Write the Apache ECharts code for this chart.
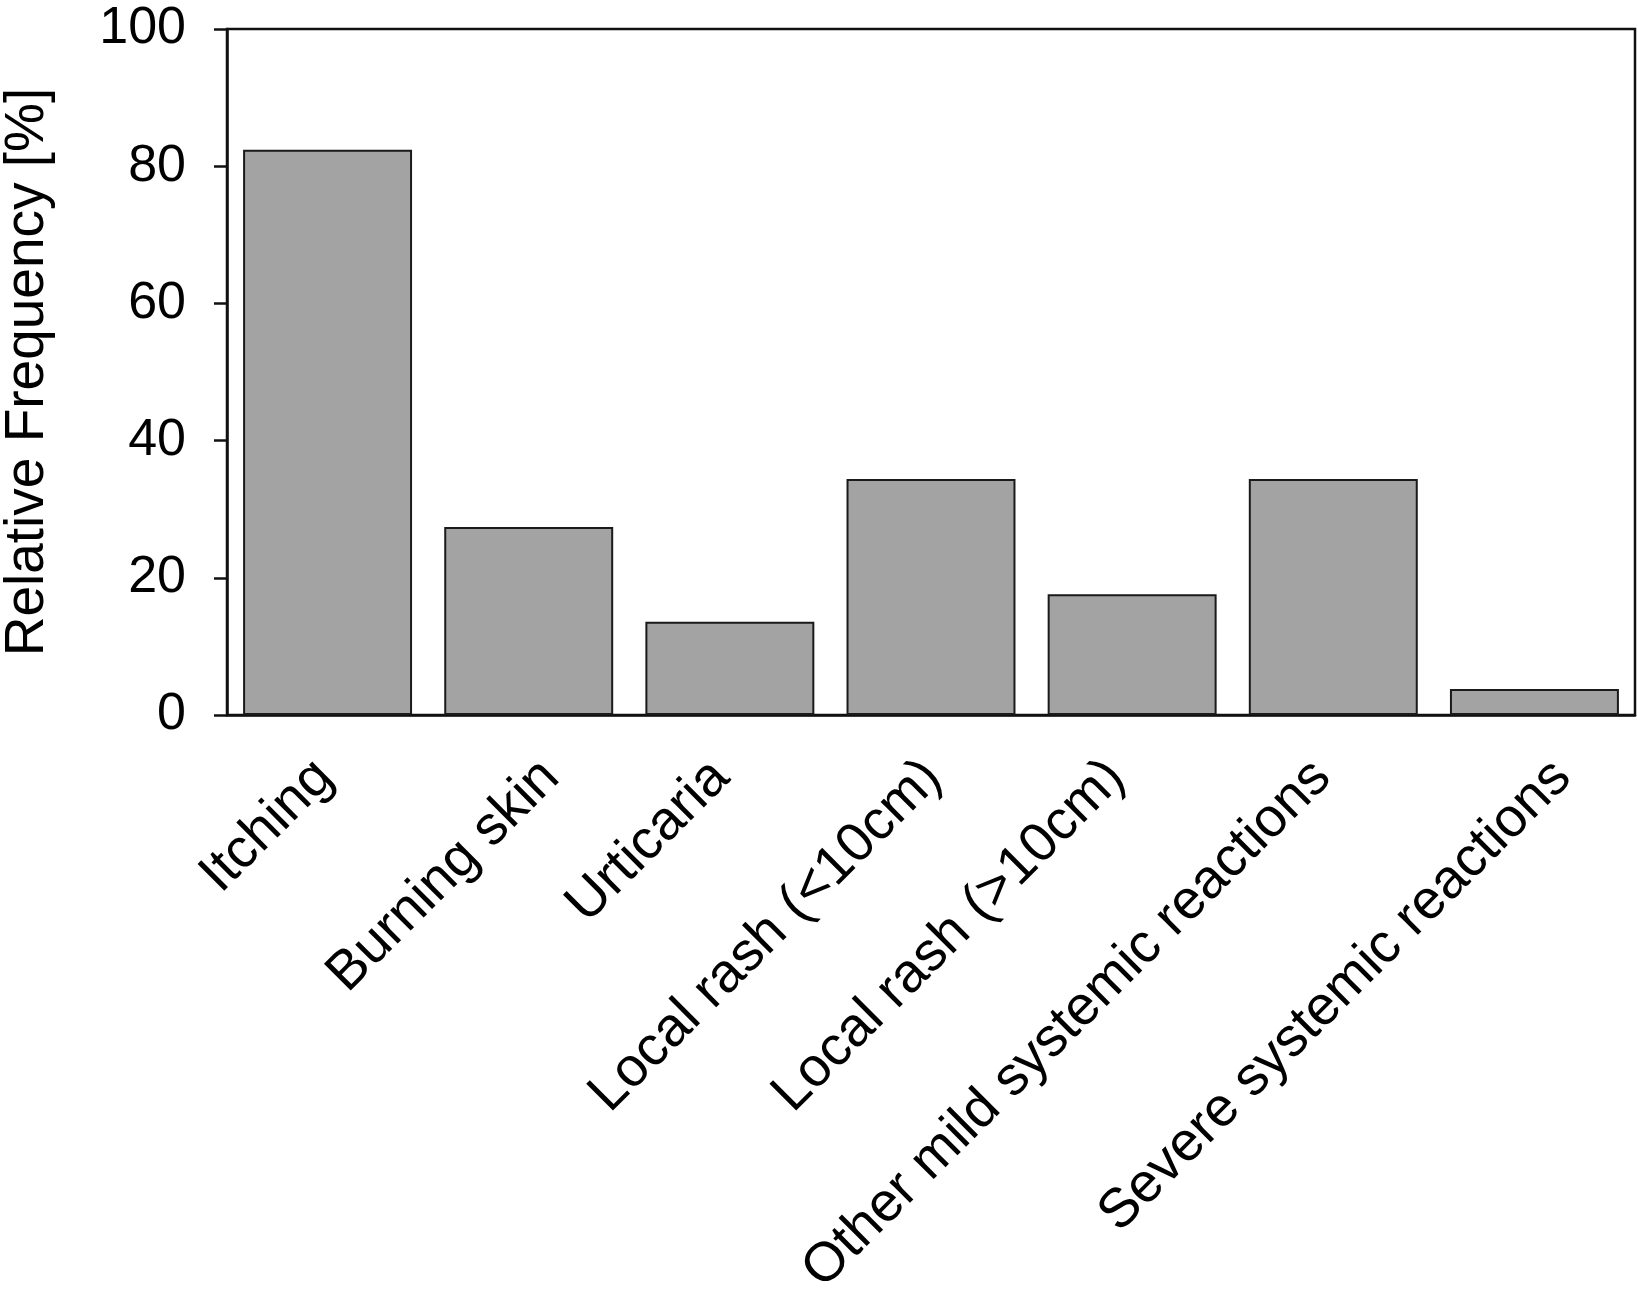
<!DOCTYPE html>
<html>
<head>
<meta charset="utf-8">
<script src="https://cdn.jsdelivr.net/npm/echarts@6/dist/echarts.min.js"></script>
<style>
  html, body { margin: 0; padding: 0; background: #fff; overflow: hidden; }
  #chart { width: 1638px; height: 1295px; display: block; }
</style>
</head>
<body>
<div id="chart"></div>
<script>
// ---- data ----
const categories = [
  'Itching',
  'Burning skin',
  'Urticaria',
  'Local rash (<10cm)',
  'Local rash (>10cm)',
  'Other mild systemic reactions',
  'Severe systemic reactions'
];
const relativeFrequency = [82.4, 27.4, 13.6, 34.4, 17.6, 34.4, 3.8];
const yTicks = [0, 20, 40, 60, 80, 100];
const yAxisTitle = 'Relative Frequency [%]';

// ---- layout (label horizontal nudges in px, to mimic the original placement) ----
const labelNudgeX = [-3, 22, -9, 2, -16, -11, 28];
const baseDown = 30;
const FONT = '"Liberation Sans", Arial, Helvetica, sans-serif';
const labelFontSize = 55;

const s2 = Math.SQRT1_2;
const K = baseDown / s2;
const rich = {};
labelNudgeX.forEach((dx, i) => {
  const d = dx / s2;
  const pr = Math.max(0, (K - d) / 2);
  const q = Math.max(0, (K + d) / 2);
  rich['l' + i] = {
    fontFamily: FONT,
    fontSize: labelFontSize,
    color: '#000',
    padding: [2 * q, pr, 0, 0]
  };
});

const chart = echarts.init(document.getElementById('chart'), null, { renderer: 'canvas' });
chart.setOption({
  animation: false,
  backgroundColor: '#fff',
  grid: {
    left: 227, right: 3, top: 29, bottom: 580,
    containLabel: false,
    outerBoundsMode: 'none',
    show: true, borderColor: '#111', borderWidth: 2.5, backgroundColor: 'transparent'
  },
  xAxis: {
    type: 'category',
    data: categories,
    boundaryGap: true,
    axisLine: { show: true, lineStyle: { color: '#111', width: 2.5 } },
    axisTick: { show: false },
    axisLabel: {
      interval: 0,
      rotate: 45,
      margin: 24,
      fontFamily: FONT,
      fontSize: labelFontSize,
      color: '#000',
      formatter: (v, i) => '{l' + i + '|' + v + '}',
      rich: rich
    },
    splitLine: { show: false }
  },
  yAxis: {
    type: 'value',
    min: yTicks[0],
    max: yTicks[yTicks.length - 1],
    interval: yTicks[1] - yTicks[0],
    name: yAxisTitle,
    nameLocation: 'middle',
    nameGap: 172,
    nameTextStyle: { fontFamily: FONT, fontSize: 55, color: '#000' },
    axisLine: { show: true, lineStyle: { color: '#111', width: 2.5 } },
    axisTick: { show: true, inside: false, length: 13, lineStyle: { color: '#111', width: 2.5 } },
    axisLabel: { margin: 41, fontFamily: FONT, fontSize: 52, color: '#000' },
    splitLine: { show: false }
  },
  series: [{
    type: 'bar',
    data: relativeFrequency,
    barCategoryGap: '16%',
    itemStyle: { color: '#a3a3a3', borderColor: '#1a1a1a', borderWidth: 2 },
    emphasis: { disabled: true }
  }]
});
</script>
</body>
</html>
